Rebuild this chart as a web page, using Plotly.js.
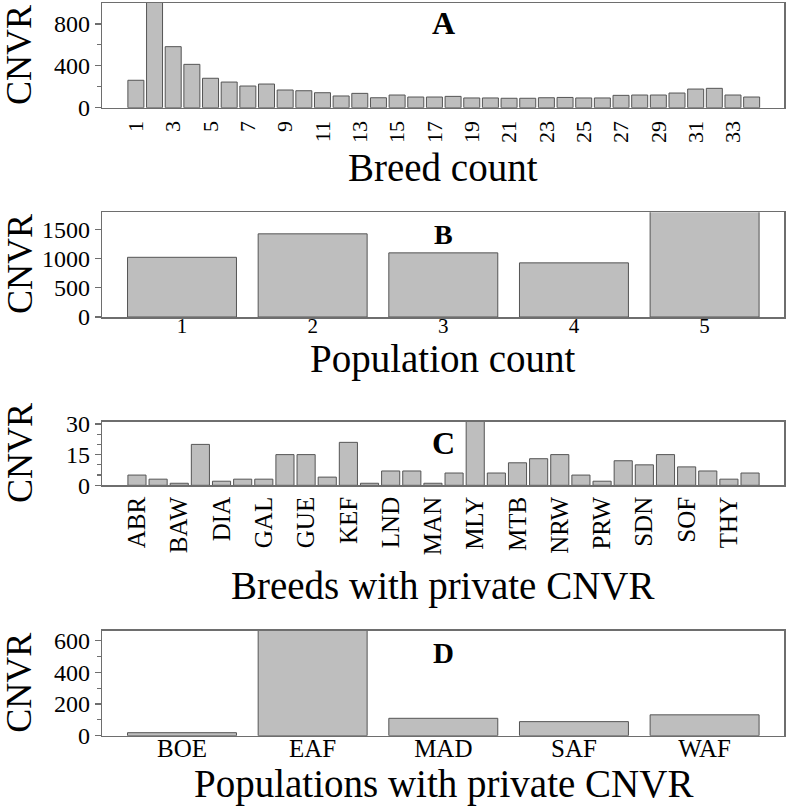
<!DOCTYPE html>
<html>
<head>
<meta charset="utf-8">
<script src="https://cdn.plot.ly/plotly-3.0.1.min.js"></script>
<style>html,body{margin:0;padding:0;background:#fff;}#chart{width:787px;height:807px;}</style>
</head>
<body>
<div id="chart"></div>
<script>
// Panel A: number of CNVR by breed count
const breedCount = [1,2,3,4,5,6,7,8,9,10,11,12,13,14,15,16,17,18,19,20,21,22,23,24,25,26,27,28,29,30,31,32,33,34];
const breedCountCNVR = [262,1050,583,414,281,245,207,226,169,162,143,112,137,95,121,102,102,108,93,93,90,90,95,98,93,93,118,121,121,140,178,185,121,102];
const breedCountTicks = [1,3,5,7,9,11,13,15,17,19,21,23,25,27,29,31,33];

// Panel B: number of CNVR by population count
const popCount = [1,2,3,4,5];
const popCountCNVR = [1020,1421,1096,925,1900];

// Panel C: breeds with private CNVR (every other breed labelled)
const privateBreedIndex = [1,2,3,4,5,6,7,8,9,10,11,12,13,14,15,16,17,18,19,20,21,22,23,24,25,26,27,28,29,30];
const privateBreedCNVR = [5,3,1,20,2,3,3,15,15,4,21,1,7,7,1,6,35,6,11,13,15,5,2,12,10,15,9,7,3,6];
const privateBreedTickPos = [1,3,5,7,9,11,13,15,17,19,21,23,25,27,29];
const privateBreedLabels = ['ABR','BAW','DIA','GAL','GUE','KEF','LND','MAN','MLY','MTB','NRW','PRW','SDN','SOF','THY'];

// Panel D: populations with private CNVR
const populations = ['BOE','EAF','MAD','SAF','WAF'];
const populationCNVR = [19,700,110,89,132];

// Text
const panelLetters = ['A','B','C','D'];
const xTitles = ['Breed count','Population count','Breeds with private CNVR','Populations with private CNVR'];
const yTitle = 'CNVR';

const FONT = 'Liberation Serif, Times New Roman, serif';
const LINE = '#6e6e6e';
const barStyle = {color:'#bebebe', line:{color:'#555555', width:1}};

function H(px){ return 1 - px/807; }
const xdom = [102.3/787, 784.3/787];

const traces = [
  {type:'bar', x:breedCount, y:breedCountCNVR, width:0.857, marker:barStyle, xaxis:'x', yaxis:'y', hoverinfo:'x+y'},
  {type:'bar', x:popCount, y:popCountCNVR, width:0.834, marker:barStyle, xaxis:'x2', yaxis:'y2', hoverinfo:'x+y'},
  {type:'bar', x:privateBreedIndex, y:privateBreedCNVR, width:0.857, marker:barStyle, xaxis:'x3', yaxis:'y3', hoverinfo:'y'},
  {type:'bar', x:populations, y:populationCNVR, width:0.834, marker:barStyle, xaxis:'x4', yaxis:'y4', hoverinfo:'x+y'}
];

function xax(extra){
  return Object.assign({
    domain:xdom, showline:true, mirror:true, linecolor:LINE, linewidth:1.5,
    showgrid:false, zeroline:false, ticks:'', automargin:false, fixedrange:true,
    tickfont:{family:FONT, size:22, color:'#000'}
  }, extra);
}
function yax(extra){
  return Object.assign({
    showline:true, mirror:true, linecolor:LINE, linewidth:1.5,
    showgrid:false, zeroline:false, ticks:'outside', ticklen:6, tickwidth:1.2, tickcolor:LINE,
    automargin:false, fixedrange:true,
    tickfont:{family:FONT, size:24, color:'#000'}
  }, extra);
}
const minorStyle = {ticks:'outside', ticklen:3.5, tickcolor:LINE, showgrid:false};

const layout = {
  width:787, height:807, margin:{l:0,r:0,t:0,b:0},
  paper_bgcolor:'#fff', plot_bgcolor:'#fff', showlegend:false,
  font:{family:FONT, color:'#000'},
  xaxis: xax({anchor:'y', range:[-0.8,35.75], tickmode:'array', tickvals:breedCountTicks, tickangle:-90,
    ticklabelstandoff:3, tickfont:{family:FONT, size:22, color:'#000'}}),
  yaxis: yax({anchor:'x', domain:[H(107.7),H(3)], range:[0,1000], tickmode:'array', tickvals:[0,400,800],
    minor:Object.assign({tickmode:'array', tickvals:[200,600]}, minorStyle)}),
  xaxis2: xax({anchor:'y2', range:[0.39,5.61], tickmode:'array', tickvals:popCount, ticklabelstandoff:-11,
    tickfont:{family:FONT, size:21, color:'#000'}}),
  yaxis2: yax({anchor:'x2', domain:[H(317),H(212.3)], range:[0,1789], tickmode:'array', tickvals:[0,500,1000,1500]}),
  xaxis3: xax({anchor:'y3', range:[-0.64,31.62], tickmode:'array', tickvals:privateBreedTickPos, ticktext:privateBreedLabels, tickangle:-90,
    tickfont:{family:FONT, size:25, color:'#000'}}),
  yaxis3: yax({anchor:'x3', domain:[H(485.3),H(421.7)], range:[0,31.1], tickmode:'array', tickvals:[0,15,30],
    minor:Object.assign({tickmode:'array', tickvals:[5,10,20,25]}, minorStyle)}),
  xaxis4: xax({anchor:'y4', type:'category', range:[-0.61,4.61], ticklabelstandoff:-10, tickfont:{family:FONT, size:25, color:'#000'}}),
  yaxis4: yax({anchor:'x4', domain:[H(735.7),H(630.7)], range:[0,664], tickmode:'array', tickvals:[0,200,400,600],
    minor:Object.assign({tickmode:'array', tickvals:[100,300,500]}, minorStyle)}),
  annotations: []
};

// panel letters
const letterPos = [[443,22.5,32],[443,234,28],[444,442.5,32],[443,653,29]];
panelLetters.forEach((L,i)=>{
  layout.annotations.push({text:'<b>'+L+'</b>', xref:'paper', yref:'paper', x:letterPos[i][0]/787, y:H(letterPos[i][1]),
    xanchor:'center', yanchor:'middle', showarrow:false, font:{family:FONT, size:letterPos[i][2], color:'#000'}});
});
// x axis titles
const xTitleY = [167.2, 359, 585.5, 783.9];
xTitles.forEach((t,i)=>{
  layout.annotations.push({text:t, xref:'paper', yref:'paper', x:443/787, y:H(xTitleY[i]),
    xanchor:'center', yanchor:'middle', showarrow:false, font:{family:FONT, size:39, color:'#000'}});
});
// y axis titles
const yTitlePos = [[19.5,55.4],[19.5,264.6],[19.5,453.5],[19.5,683.2]];
yTitlePos.forEach((p)=>{
  layout.annotations.push({text:yTitle, xref:'paper', yref:'paper', x:p[0]/787, y:H(p[1]), textangle:-90,
    xanchor:'center', yanchor:'middle', showarrow:false, font:{family:FONT, size:36, color:'#000'}});
});

Plotly.newPlot('chart', traces, layout, {displayModeBar:false, staticPlot:true});
</script>
</body>
</html>
